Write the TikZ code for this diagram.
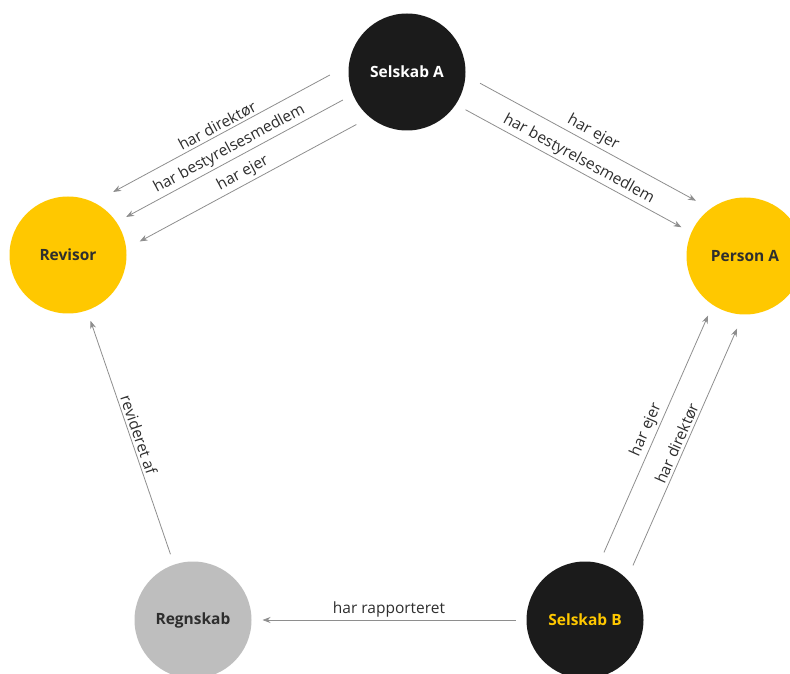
\documentclass[tikz,border=0pt]{standalone}
\usepackage{fontspec}
\setmainfont{Open Sans}
\usetikzlibrary{arrows.meta}

\definecolor{selskabsort}{HTML}{1B1B1B}
\definecolor{persongul}{HTML}{FFC800}
\definecolor{regnskabgraa}{HTML}{BEBEBE}
\definecolor{pilgraa}{HTML}{8E8E8E}
\definecolor{tekstgraa}{HTML}{2E2E2E}

\begin{document}
\begin{tikzpicture}[x=1pt,y=1pt,
    entity/.style={circle,minimum size=117pt,inner sep=0pt,outer sep=11pt,
        font=\bfseries\fontsize{15.5}{18}\selectfont},
    company/.style={entity,fill=selskabsort},
    person/.style={entity,fill=persongul,text=tekstgraa},
    report/.style={entity,fill=regnskabgraa,text=tekstgraa},
    link/.style={draw=pilgraa,line width=0.8pt,-{Stealth[length=8pt,width=6pt]}},
    lbl/.style={above,sloped,inner sep=2.5pt,text=tekstgraa,font=\fontsize{15.5}{18}\selectfont}]
    \useasboundingbox (0,0) rectangle (790,673);

    \node[company,text=white] (selA) at (407,601) {Selskab A};
    \node[person] (rev) at (68,418) {Revisor};
    \node[person] (perA) at (745,417) {Person A};
    \node[report] (regn) at (193,53) {Regnskab};
    \node[company,text=persongul] (selB) at (585,53) {Selskab B};

    \draw[link,transform canvas={shift={(-16pt,30pt)}}] (selA) -- node[lbl] {har direktør} (rev);
    \draw[link,transform canvas={shift={(-3pt,5pt)}}] (selA) -- node[lbl] {har bestyrelsesmedlem} (rev);
    \draw[link,transform canvas={shift={(10.5pt,-19.5pt)}}] (selA) -- node[lbl] {har ejer} (rev);

    \draw[link,transform canvas={shift={(12pt,22pt)}}] (selA) -- node[lbl] {har ejer} (perA);
    \draw[link,transform canvas={shift={(-2.5pt,-4.5pt)}}] (selA) -- node[lbl] {har bestyrelsesmedlem} (perA);

    \draw[link,transform canvas={shift={(-9pt,4pt)}}] (selB) -- node[lbl] {har ejer} (perA);
    \draw[link,transform canvas={shift={(20pt,-9pt)}}] (selB) -- node[lbl] {har direktør} (perA);

    \draw[link] (selB) -- node[lbl] {har rapporteret} (regn);
    \draw[link] (regn) -- node[lbl] {revideret af} (rev);
\end{tikzpicture}
\end{document}
